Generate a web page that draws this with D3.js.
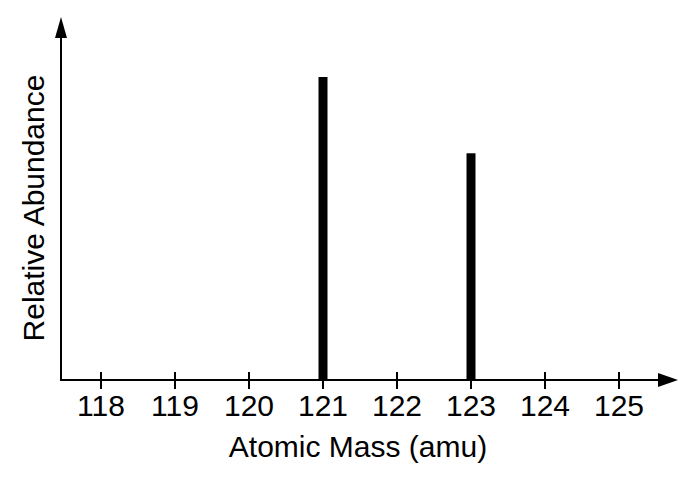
<!DOCTYPE html>
<html>
<head>
<meta charset="utf-8">
<script src="https://cdn.jsdelivr.net/npm/d3@7"></script>
<style>
  body { margin: 0; background: #fff; }
  text { font-family: "Liberation Sans", Arial, sans-serif; fill: #000; }
</style>
</head>
<body>
<svg id="chart"></svg>
<script>
// Data
const masses = [121, 123];
const abundance = [57.2, 42.8];
const tickValues = [118, 119, 120, 121, 122, 123, 124, 125];

const width = 694, height = 478;
const originX = 61, originY = 380;

const svg = d3.select("#chart")
    .attr("width", width)
    .attr("height", height);

// Scales
const x = d3.scaleLinear()
    .domain([118, 125])
    .range([101, 619]);

const y = d3.scaleLinear()
    .domain([0, 57.2])
    .range([originY, 77]);

// Bars
svg.selectAll("rect.bar")
    .data(masses.map((m, i) => ({ mass: m, value: abundance[i] })))
    .enter().append("rect")
    .attr("class", "bar")
    .attr("x", d => x(d.mass) - 4.5)
    .attr("y", d => y(d.value))
    .attr("width", 9)
    .attr("height", d => originY - y(d.value))
    .attr("fill", "#000");

// X axis line with arrow
svg.append("line")
    .attr("x1", originX).attr("y1", originY)
    .attr("x2", 660).attr("y2", originY)
    .attr("stroke", "#000").attr("stroke-width", 2);
svg.append("path")
    .attr("d", "M658,373 L678,380 L658,387 Z")
    .attr("fill", "#000");

// Y axis line with arrow
svg.append("line")
    .attr("x1", originX).attr("y1", originY + 1)
    .attr("x2", originX).attr("y2", 35)
    .attr("stroke", "#000").attr("stroke-width", 2);
svg.append("path")
    .attr("d", "M55,38 L61,17 L67,38 Z")
    .attr("fill", "#000");

// Ticks and labels
const ticks = svg.append("g");
ticks.selectAll("line")
    .data(tickValues)
    .enter().append("line")
    .attr("x1", d => x(d)).attr("x2", d => x(d))
    .attr("y1", 372).attr("y2", 389)
    .attr("stroke", "#000").attr("stroke-width", 2);
ticks.selectAll("text")
    .data(tickValues)
    .enter().append("text")
    .attr("x", d => x(d))
    .attr("y", 416)
    .attr("text-anchor", "middle")
    .style("font-size", "30px")
    .text(d => d);

// Axis titles
svg.append("text")
    .attr("x", 358)
    .attr("y", 457)
    .attr("text-anchor", "middle")
    .style("font-size", "30px")
    .text("Atomic Mass (amu)");

svg.append("text")
    .attr("transform", "translate(44,208) rotate(-90)")
    .attr("text-anchor", "middle")
    .style("font-size", "30px")
    .text("Relative Abundance");
</script>
</body>
</html>
